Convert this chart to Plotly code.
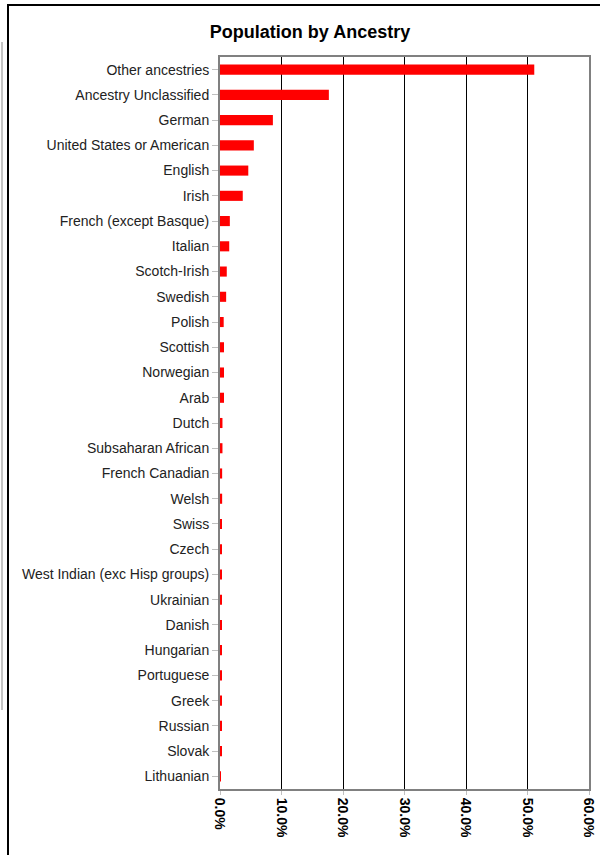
import plotly.graph_objects as go

categories = [
    "Other ancestries", "Ancestry Unclassified", "German", "United States or American",
    "English", "Irish", "French (except Basque)", "Italian", "Scotch-Irish", "Swedish",
    "Polish", "Scottish", "Norwegian", "Arab", "Dutch", "Subsaharan African",
    "French Canadian", "Welsh", "Swiss", "Czech", "West Indian (exc Hisp groups)",
    "Ukrainian", "Danish", "Hungarian", "Portuguese", "Greek", "Russian", "Slovak",
    "Lithuanian",
]
values_pct = [
    51.1, 17.7, 8.6, 5.5, 4.6, 3.7, 1.6, 1.5, 1.1, 1.0,
    0.6, 0.65, 0.65, 0.65, 0.4, 0.4, 0.35, 0.35, 0.2, 0.2, 0.2,
    0.2, 0.2, 0.2, 0.2, 0.2, 0.2, 0.2, 0.1,
]
x_ticks = [0, 10, 20, 30, 40, 50, 60]
x_tick_labels = ["0.0%", "10.0%", "20.0%", "30.0%", "40.0%", "50.0%", "60.0%"]

W, H = 600, 855
L, R, T, B = 220, 11, 57, 66
pw, ph = W - L - R, H - T - B

def px2paper_x(px):
    return (px - L) / pw

def px2paper_y(py):
    return 1 - (py - T) / ph

fig = go.Figure(go.Bar(
    x=values_pct, y=categories, orientation="h",
    marker=dict(color="#FF0000", line=dict(width=0)),
))

fig.update_layout(
    width=W, height=H, autosize=False,
    margin=dict(l=L, r=R, t=T, b=B, autoexpand=False),
    paper_bgcolor="white", plot_bgcolor="white",
    font=dict(family="Liberation Sans, Arial, sans-serif", color="#222222"),
    title=dict(text="<b>Population by Ancestry</b>", xref="container", x=310 / W,
               xanchor="center", y=1 - 32 / H, yanchor="middle",
               font=dict(size=18, color="#000000")),
    showlegend=False,
    bargap=0.6,
)
fig.update_xaxes(
    range=[0, 60], tickvals=x_ticks, ticktext=x_tick_labels,
    tickangle=90, tickfont=dict(size=14, color="#000000", weight="bold"),
    showgrid=True, gridcolor="#000000", gridwidth=1,
    showline=True, linecolor="#808080", linewidth=2, mirror=True,
    ticks="outside", ticklen=4, tickcolor="#c0c0c0",
    zeroline=False, automargin=False,
)
fig.update_yaxes(
    categoryorder="array", categoryarray=categories, autorange="reversed",
    tickfont=dict(size=14, color="#222222"),
    showline=True, linecolor="#808080", linewidth=2, mirror=True,
    ticks="outside", ticklen=6, tickcolor="#c0c0c0",
    showgrid=False, automargin=False,
)

# outer frame of the chart (top and left edges are visible)
fig.add_shape(type="line", xref="paper", yref="paper",
              x0=px2paper_x(7), x1=px2paper_x(600), y0=px2paper_y(5), y1=px2paper_y(5),
              line=dict(color="#000000", width=2), layer="above")
fig.add_shape(type="line", xref="paper", yref="paper",
              x0=px2paper_x(8), x1=px2paper_x(8), y0=px2paper_y(855), y1=px2paper_y(4),
              line=dict(color="#000000", width=2), layer="above")
fig.add_shape(type="line", xref="paper", yref="paper",
              x0=px2paper_x(2), x1=px2paper_x(2), y0=px2paper_y(710), y1=px2paper_y(42),
              line=dict(color="#b0b0b0", width=1.5))

post = (
    "document.body.style.margin='0';"
    "document.body.style.overflow='hidden';"
    "Plotly.relayout('{plot_id}', {width: %d, height: %d});" % (W, H)
)
fig.write_html("out.html", config={"displayModeBar": False, "responsive": False},
               post_script=post)
